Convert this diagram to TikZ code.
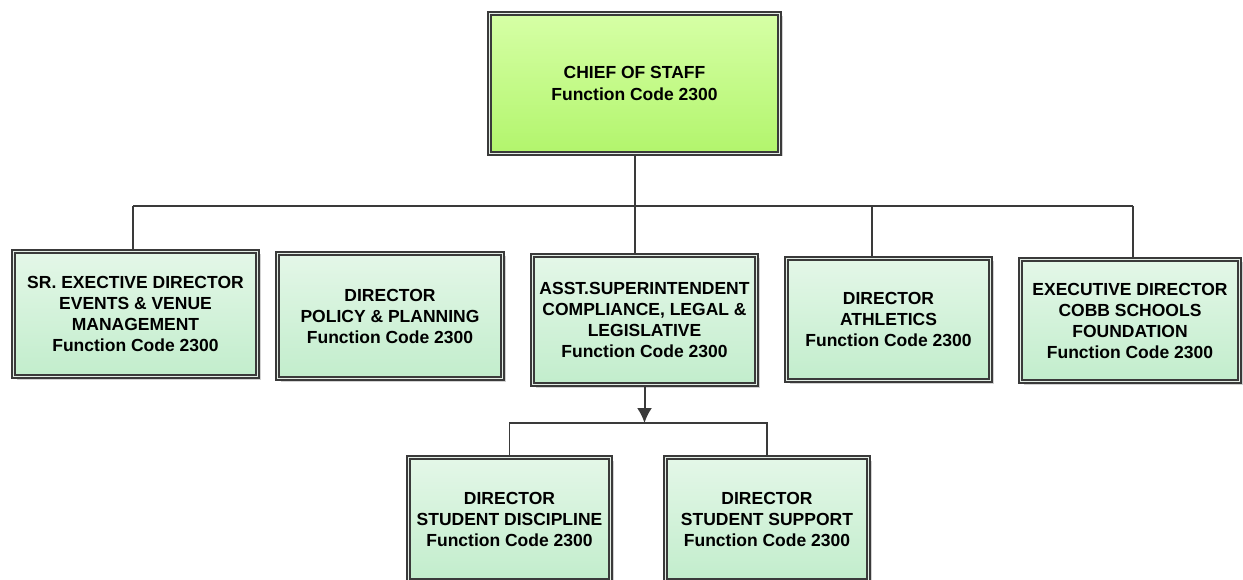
\documentclass[tikz,border=0pt]{standalone}
\usepackage{fontspec}
\setmainfont{Liberation Sans}
\usetikzlibrary{shadows,arrows.meta}

\definecolor{edgegray}{RGB}{58,58,58}
\definecolor{gapgray}{RGB}{228,238,230}
\definecolor{mintTop}{RGB}{228,247,232}
\definecolor{mintBot}{RGB}{194,237,204}
\definecolor{limeTop}{RGB}{214,255,166}
\definecolor{limeBot}{RGB}{178,245,108}

\tikzset{
  orgbox/.style={
    draw=edgegray, line width=1.9pt, double=gapgray, double distance=1.6pt,
    inner sep=0pt, align=center,
    font=\bfseries\fontsize{17.5}{21}\selectfont,
    top color=mintTop, bottom color=mintBot,
    drop shadow={shadow xshift=3pt, shadow yshift=-3pt, fill=black!22, opacity=0.8}
  },
  headbox/.style={orgbox, top color=limeTop, bottom color=limeBot,
    font=\bfseries\fontsize{17.5}{22.5}\selectfont},
  link/.style={draw=edgegray, line width=2pt},
  thinlink/.style={draw=edgegray, line width=1.4pt},
}

\begin{document}
\begin{tikzpicture}[x=1pt, y=-1pt]
  \useasboundingbox (0,0) rectangle (1243,580);
  \clip (0,0) rectangle (1243,580);

  % top of the chart
  \node[headbox, minimum width=290pt, minimum height=140pt] (chief) at (634.5,83.5)
    {CHIEF OF STAFF\\Function Code 2300};

  % second level
  \node[orgbox, minimum width=244pt, minimum height=125pt] (b1) at (135.5,314)
    {SR. EXECTIVE DIRECTOR\\EVENTS \& VENUE\\MANAGEMENT\\Function Code 2300};
  \node[orgbox, minimum width=225pt, minimum height=125pt] (b2) at (390,316)
    {DIRECTOR\\POLICY \& PLANNING\\Function Code 2300};
  \node[orgbox, minimum width=224pt, minimum height=129pt] (b3) at (644.5,320)
    {ASST.SUPERINTENDENT\\COMPLIANCE, LEGAL \&\\LEGISLATIVE\\Function Code 2300};
  \node[orgbox, minimum width=204pt, minimum height=122pt] (b4) at (888.5,319.5)
    {DIRECTOR\\ATHLETICS\\Function Code 2300};
  \node[orgbox, minimum width=219pt, minimum height=122pt] (b5) at (1130,320.5)
    {EXECUTIVE DIRECTOR\\COBB SCHOOLS\\FOUNDATION\\Function Code 2300};

  % third level
  \node[orgbox, minimum width=202pt, minimum height=123pt] (b6) at (509.5,519)
    {DIRECTOR\\STUDENT DISCIPLINE\\Function Code 2300};
  \node[orgbox, minimum width=203pt, minimum height=123pt] (b7) at (767,519)
    {DIRECTOR\\STUDENT SUPPORT\\Function Code 2300};

  % bus between the first and second levels
  \coordinate (busL) at (133,206);
  \coordinate (busA) at (872,206);
  \coordinate (busR) at (1133,206);
  \draw[link] (busL) -- (busR);
  \draw[link] (chief.south) -- (chief.south |- b3.north);
  \draw[link] (busL) -- (busL |- b1.north);
  \draw[link] (busA) -- (busA |- b4.north);
  \draw[link] (busR) -- (busR |- b5.north);

  % branch below the assistant superintendent
  \coordinate (sub) at (645,423);
  \draw[link, -{Latex[length=15pt, width=15pt]}] (b3.south) -- (b3.south |- sub);
  \draw[thinlink] (b6.north) -- (b6.north |- sub) -- (b7.north |- sub) -- (b7.north);
\end{tikzpicture}
\end{document}
